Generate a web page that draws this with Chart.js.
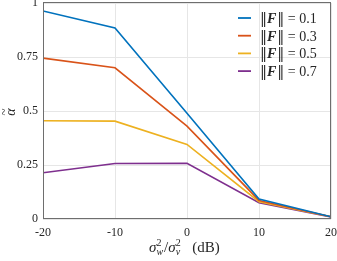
<!DOCTYPE html>
<html>
<head>
<meta charset="utf-8">
<script src="https://cdn.jsdelivr.net/npm/chart.js@4/dist/chart.umd.min.js"></script>
<style>
  html, body { margin: 0; padding: 0; background: #fff; }
  #wrap { width: 337px; height: 261px; position: relative; }
</style>
</head>
<body>
<div id="wrap"><canvas id="alphaChart"></canvas></div>
<script>
// data
var snrDb = [-20, -10, 0, 10, 20];
var normLabels = ['0.1', '0.3', '0.5', '0.7'];
var alpha01 = [0.963, 0.884, 0.49, 0.092, 0.01];
var alpha03 = [0.745, 0.70, 0.43, 0.086, 0.01];
var alpha05 = [0.455, 0.453, 0.345, 0.08, 0.01];
var alpha07 = [0.214, 0.257, 0.258, 0.075, 0.01];
var xTicks = [-20, -10, 0, 10, 20];
var yTicks = [0, 0.25, 0.5, 0.75, 1];

var colors = ['#0072BD', '#D95319', '#EDB120', '#7E2F8E'];
var series = [alpha01, alpha03, alpha05, alpha07];
var serif = '"Liberation Serif", "DejaVu Serif", serif';

function pts(arr) {
  return arr.map(function(v, i) { return { x: snrDb[i], y: v }; });
}

var datasets = series.map(function(s, i) {
  return {
    label: normLabels[i],
    data: pts(s),
    borderColor: colors[i],
    backgroundColor: colors[i],
    borderWidth: 1.6,
    pointRadius: 0,
    tension: 0
  };
});

// axis titles, legend and box drawn by hand
var extras = {
  id: 'extras',
  afterDraw: function(chart) {
    var ctx = chart.ctx;
    var a = chart.chartArea;
    ctx.save();

    // box
    ctx.strokeStyle = '#6e6e6e';
    ctx.lineWidth = 1;
    ctx.strokeRect(Math.round(a.left) + 0.5, Math.round(a.top) - 0.5,
                   Math.round(a.right - a.left) - 1, Math.round(a.bottom - a.top));

    ctx.fillStyle = '#262626';
    ctx.textBaseline = 'alphabetic';

    // legend
    var lx = 238, ly = 18;
    for (var i = 0; i < normLabels.length; i++) {
      var y = ly + i * 17.7;
      ctx.strokeStyle = colors[i];
      ctx.lineWidth = 1.8;
      ctx.beginPath();
      ctx.moveTo(lx, y);
      ctx.lineTo(lx + 13, y);
      ctx.stroke();
      var x = lx + 22;
      ctx.font = '14px "DejaVu Serif", serif';
      ctx.fillText('\u2016', x, y + 5);
      x += ctx.measureText('\u2016').width;
      ctx.font = 'italic bold 14px ' + serif;
      ctx.fillText('F', x, y + 5);
      x += ctx.measureText('F').width + 1;
      ctx.font = '14px "DejaVu Serif", serif';
      ctx.fillText('\u2016', x, y + 5);
      x += ctx.measureText('\u2016').width;
      ctx.font = '14px ' + serif;
      ctx.fillText(' = ' + normLabels[i], x, y + 5);
    }

    // x axis title
    var parts = [
      ['italic 15px ', '\u03c3', 0], ['10px ', '2', -6], ['italic 10px ', 'w', 3],
      ['15px ', '/', 0],
      ['italic 15px ', '\u03c3', 0], ['10px ', '2', -6], ['italic 10px ', 'v', 3],
      ['15px ', '   (dB)', 0]
    ];
    var widths = [];
    parts.forEach(function(p) {
      ctx.font = p[0] + serif;
      widths.push(ctx.measureText(p[1]).width);
    });
    // sup and sub share one slot
    var xx = 149, by = 252;
    for (var k = 0; k < parts.length; k++) {
      ctx.font = parts[k][0] + serif;
      ctx.fillText(parts[k][1], xx, by + parts[k][2]);
      if (parts[k][2] < 0) continue;
      xx += widths[k] + (parts[k][2] > 0 ? 1 : 0);
    }

    // y axis title
    ctx.translate(11, 112);
    ctx.rotate(-Math.PI / 2);
    ctx.font = 'italic 14px ' + serif;
    ctx.textAlign = 'center';
    ctx.fillText('\u03b1', 0, 4);
    ctx.font = '13px ' + serif;
    ctx.fillText('~', 0, -3);
    ctx.restore();
  }
};

var ctx1 = document.getElementById('alphaChart').getContext('2d');
var alphaChart = new Chart(ctx1, {
  type: 'line',
  data: { datasets: datasets },
  options: {
    responsive: true,
    maintainAspectRatio: false,
    animation: false,
    layout: { padding: { left: 0, right: 6, top: 3, bottom: 0 } },
    plugins: { legend: { display: false }, tooltip: { enabled: false } },
    scales: {
      x: {
        type: 'linear',
        min: -20, max: 20,
        afterBuildTicks: function(axis) { axis.ticks = xTicks.map(function(v) { return { value: v }; }); },
        afterFit: function(axis) { axis.height = 42; axis.paddingLeft = 0; axis.paddingRight = 0; },
        grid: { color: '#e6e6e6', drawTicks: false },
        border: { display: false },
        ticks: { color: '#262626', padding: 7, font: { family: serif, size: 12 } }
      },
      y: {
        min: 0, max: 1,
        afterBuildTicks: function(axis) { axis.ticks = yTicks.map(function(v) { return { value: v }; }); },
        afterFit: function(axis) { axis.width = 43; axis.paddingTop = 0; axis.paddingBottom = 0; },
        grid: { color: '#e6e6e6', drawTicks: false },
        border: { display: false },
        ticks: {
          color: '#262626', padding: 5, font: { family: serif, size: 12 },
          callback: function(v) { return String(v); }
        }
      }
    }
  },
  plugins: [extras]
});
</script>
</body>
</html>
